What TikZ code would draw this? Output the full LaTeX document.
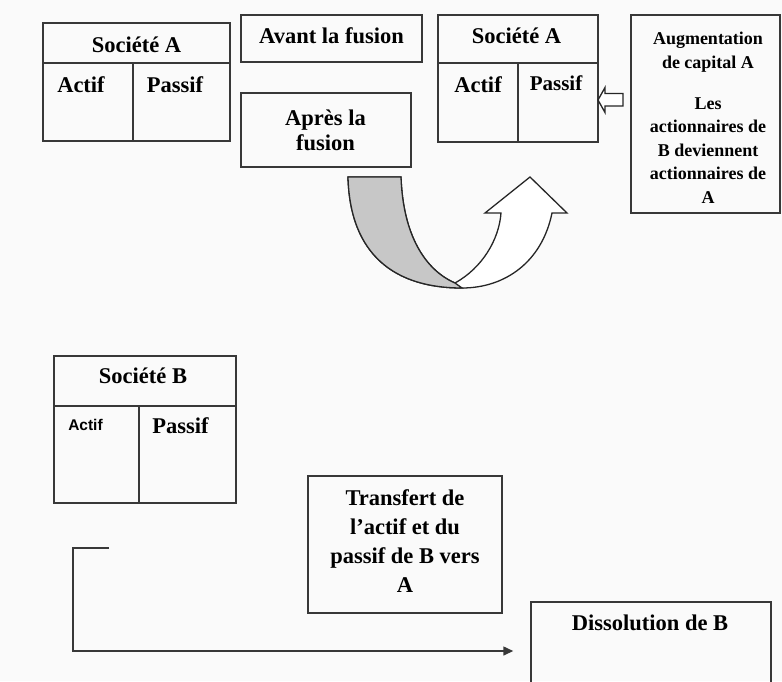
\documentclass[tikz,border=0pt]{standalone}
\usepackage{fontspec}
\setmainfont{Liberation Serif}
\newfontfamily\sansfam{Liberation Sans}
\usetikzlibrary{arrows.meta}
\begin{document}
\begin{tikzpicture}[x=1pt,y=-1pt,
  rule/.style={draw=black!78, line width=1.5pt},
  frame/.style={rule, inner sep=0pt},
  lbl/.style={font=\bfseries\fontsize{22.5}{25}\selectfont, inner sep=0pt, anchor=base},
  multi/.style={lbl, align=center},
  small/.style={font=\bfseries\fontsize{18}{23.5}\selectfont, inner sep=0pt, anchor=base, align=center},
  flow/.style={rule, -{Triangle[length=10pt,width=9pt]}}]
\useasboundingbox[fill=black!2] (0,0) rectangle (782,681);

% --- Société A before the merger
\node[frame, minimum width=187pt, minimum height=118pt] (sa) at (136.5,82) {};
\draw[rule] (43,63) -- (230,63) (133,63) -- (133,141);
\node[lbl] (saname) at (136.5,52) {Société A};
\node[lbl] (saactif) at (81,92) {Actif};
\node[lbl] (sapassif) at (175,92) {Passif};

% --- captions (multi-line nodes are anchored on their last baseline)
\node[frame, minimum width=181pt, minimum height=47pt] (avant) at (331.5,38.5) {};
\node[lbl] (avantt) at (331.5,43) {Avant la fusion};
\node[frame, minimum width=170pt, minimum height=74pt] (apres) at (326,130) {};
\node[multi] (aprest) at (325.5,150) {Après la\\fusion};

% --- Société A after the merger
\node[frame, minimum width=160pt, minimum height=127pt] (sb) at (518,78.5) {};
\draw[rule] (438,63) -- (598,63) (518,63) -- (518,142);
\node[lbl] (sbname) at (516.5,43) {Société A};
\node[lbl] (sbactif) at (478,92) {Actif};
\node[lbl, font=\bfseries\fontsize{21}{25}\selectfont] (sbpassif) at (556,90) {Passif};

% --- capital increase
\node[frame, minimum width=149pt, minimum height=198pt] (aug) at (705.5,114) {};
\node[small] (augt) at (708,203) {Augmentation\\de capital A\\[17.5pt]Les\\actionnaires de\\B deviennent\\actionnaires de\\A};

% hollow block arrow towards the liabilities of A
\draw[draw=black!85, line width=1.3pt, fill=white]
  (598,100) -- (605,87.5) -- (605,93.5) -- (623,93.5) -- (623,106) -- (605,106) -- (605,112.5) -- cycle;

% --- U-turn arrow
\draw[draw=black!85, line width=1.3pt, fill=white]
  (348,177) -- (401,177) .. controls (403,235) and (425,270) .. (455,283)
  .. controls (482,268) and (499,240) .. (501,213) -- (485,213) -- (530,177)
  -- (567,213) -- (552,213) .. controls (542,262) and (505,288) .. (462,288)
  .. controls (395,288) and (350,255) .. (348,177) -- cycle;
\draw[draw=black!85, line width=1.3pt, fill=black!22]
  (348,177) -- (401,177) .. controls (403,235) and (425,270) .. (455,283)
  -- (462,288) .. controls (395,288) and (350,255) .. (348,177) -- cycle;

% --- Société B
\node[frame, minimum width=182pt, minimum height=147pt] (sc) at (145,429.5) {};
\draw[rule] (54,406) -- (236,406) (139,406) -- (139,503);
\node[lbl] (scname) at (143,383) {Société B};
\node[lbl, font=\sansfam\bfseries\fontsize{15.5}{18}\selectfont] (scactif) at (85.5,430) {Actif};
\node[lbl] (scpassif) at (180.5,433) {Passif};

% --- transfer and dissolution
\node[frame, minimum width=194pt, minimum height=137pt] (tr) at (405,544.5) {};
\node[multi, font=\bfseries\fontsize{22.5}{29}\selectfont] (trt) at (405,592) {Transfert de\\l’actif et du\\passif de B vers\\A};
\node[frame, minimum width=240pt, minimum height=98pt] (diss) at (651,651) {};
\node[lbl] (disst) at (650,630) {Dissolution de B};

\coordinate (start) at (109,548);
\draw[flow, shorten >=17pt] (start) -- (73,548) |- (diss.west);
\end{tikzpicture}
\end{document}
